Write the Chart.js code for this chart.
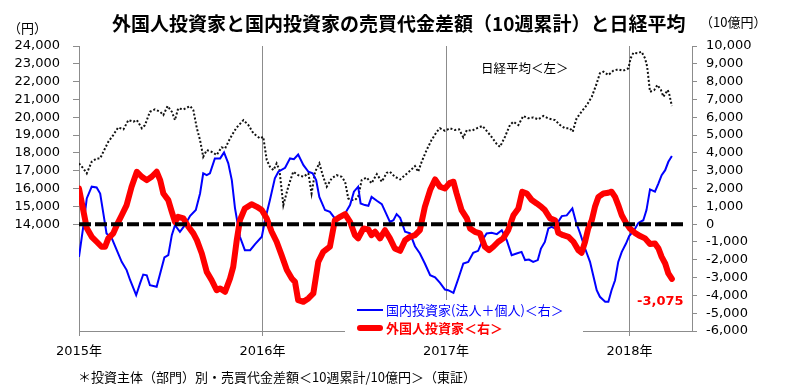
<!DOCTYPE html>
<html lang="ja">
<head>
<meta charset="utf-8">
<script src="https://cdn.jsdelivr.net/npm/chart.js@4.4.1/dist/chart.umd.min.js"></script>
<style>
  body { margin: 0; background: #fff; }
  #wrap { position: relative; width: 798px; height: 385px; overflow: hidden; }
  canvas { position: absolute; left: 0; top: 0; }
  .txt { position: absolute; white-space: nowrap; font-family: "Noto Sans CJK JP", sans-serif; color: #000; }
  #legend { position: absolute; left: 345px; top: 300px; width: 238px; height: 38px; background: #fff; }
  .swatch { position: absolute; left: 12px; width: 26px; }
</style>
</head>
<body>
<div id="wrap">
  <canvas id="chart" width="798" height="385"></canvas>
  <div class="txt" style="left:112px; top:13px; font-size:19px; line-height:19px; font-weight:bold;">外国人投資家と国内投資家の売買代金差額（10週累計）と日経平均</div>
  <div class="txt" style="left:8px; top:21px; font-size:13px; line-height:13px;">（円）</div>
  <div class="txt" style="left:700px; top:15px; font-size:13px; line-height:13px;">（10億円）</div>
  <div class="txt" style="left:481px; top:61px; font-size:12.5px; line-height:13px;">日経平均＜左＞</div>
  <div class="txt" style="left:637px; top:294px; font-size:13px; line-height:14px; font-weight:bold; color:#ff0000; font-family:'DejaVu Sans', sans-serif;">-3,075</div>
  <div id="legend">
    <div class="swatch" style="top:9px; height:2px; background:#0000ff;"></div>
    <div class="txt" style="left:41px; top:3px; font-size:13px; line-height:14px; color:#0000ff;">国内投資家(法人＋個人)＜右＞</div>
    <div class="swatch" style="top:25px; height:6px; border-radius:3px; background:#ff0000;"></div>
    <div class="txt" style="left:41px; top:21px; font-size:13px; line-height:14px; color:#ff0000; font-weight:bold;">外国人投資家＜右＞</div>
  </div>
  <div class="txt" style="left:78px; top:370px; font-size:13px; line-height:14px;">＊投資主体（部門）別・売買代金差額＜10週累計/10億円＞（東証）</div>
</div>
<script>
// === Data (x = weeks since start of 2015) ===
const yearWeeks = [0, 52, 104, 156];
const yearLabels = ["2015年", "2016年", "2017年", "2018年"];

const foreignWeeks = [0,1.2,2.2,3.6,5.0,6.4,7.4,8.3,9.7,10.7,12.1,13.5,14.9,16.4,17.8,19.2,20.6,22.0,23.0,23.9,25.3,26.3,27.2,28.1,29.6,31.0,32.4,33.4,34.8,36.2,37.6,39.0,40.0,41.4,42.8,43.7,44.7,45.6,47.0,48.9,50.4,51.8,53.2,54.6,56.0,57.4,58.9,60.3,61.2,62.1,63.6,65.0,66.4,67.8,69.2,71.1,72.5,74.0,75.4,76.8,78.2,79.1,80.6,82.0,82.9,83.9,85.3,86.7,88.1,89.5,91.0,92.4,93.8,95.2,96.6,98.0,99.5,100.9,102.3,103.7,105.1,106.1,107.0,108.4,109.9,110.8,112.2,113.6,115.0,116.2,117.4,118.8,120.2,121.6,123.1,124.5,125.6,126.9,128.3,129.7,131.1,132.0,133.5,134.9,135.8,137.2,138.7,140.1,141.5,142.4,143.4,144.3,145.3,146.2,147.2,148.6,150.0,150.9,151.9,152.8,153.8,155.0,156.1,157.5,159.0,160.4,161.8,163.2,164.2,165.1,166.1,167.0,168.0];
const foreignValues = [2000,790,-220,-710,-990,-1270,-1270,-800,-520,-60,500,1070,2100,2940,2660,2470,2660,2940,2470,1720,1350,690,130,410,320,-150,-520,-900,-1650,-2680,-3150,-3710,-3610,-3800,-3050,-2400,-900,220,880,1120,970,790,320,-430,-990,-1740,-2580,-3050,-3240,-4270,-4360,-4170,-3890,-2120,-1560,-1270,220,410,560,130,-620,-800,-240,-300,-620,-430,-800,-340,-800,-1370,-1500,-900,-710,-620,-340,970,1910,2510,2100,2000,2320,2380,1720,790,320,-240,-430,-520,-1270,-1460,-1270,-990,-800,-340,500,880,1820,1720,1350,1160,950,790,320,220,-490,-620,-710,-990,-1460,-1610,-990,-240,220,970,1530,1720,1760,1820,1530,1070,500,70,-240,-490,-670,-800,-1120,-1090,-1370,-1840,-2210,-2770,-3075];

const domesticWeeks = [0,1.2,2.2,3.6,5.0,6.0,6.9,7.8,9.3,10.7,12.1,13.5,14.5,16.2,17.3,18.2,19.2,20.1,22.0,23.0,24.2,25.3,26.3,27.2,28.6,30.0,31.5,33.1,34.3,35.2,36.2,37.1,38.5,40.0,41.1,42.3,43.3,44.2,45.6,47.0,48.5,49.9,51.8,52.7,54.1,55.5,56.5,58.4,59.8,60.9,62.1,63.6,65.0,66.2,67.2,68.1,69.7,71.1,72.5,74.0,75.4,76.8,77.9,79.1,79.8,81.0,82.0,82.9,84.4,85.8,87.0,88.1,89.1,90.0,91.0,92.4,93.8,95.2,96.6,98.0,99.5,100.9,102.3,103.7,104.6,106.1,107.5,108.9,110.3,111.7,113.1,114.6,115.5,116.9,118.4,119.8,121.2,122.6,124.0,125.4,126.4,127.5,128.7,130.0,130.9,132.0,133.0,133.9,134.9,135.8,136.8,138.2,139.8,140.8,142.0,143.4,144.8,145.7,146.7,147.6,149.1,150.0,150.9,151.9,152.8,153.8,155.0,155.9,157.3,158.5,159.9,160.8,161.8,163.2,164.2,165.1,166.1,167.0,168.0];
const domesticValues = [-1840,-150,1440,2100,2060,1720,600,-520,-800,-1460,-2120,-2580,-3150,-3990,-3330,-2830,-2870,-3430,-3520,-2770,-1870,-1740,-620,-60,-430,-60,470,790,1720,2850,2750,2850,3690,3690,4030,3410,2470,900,-710,-1460,-1460,-1120,-710,220,1350,2570,2940,3160,3690,3650,3910,3310,2940,2850,2470,1530,790,690,320,320,600,1070,1820,2100,1160,1070,1030,1530,1310,1120,600,130,220,560,350,-430,-520,-1240,-1650,-2210,-2870,-2990,-3300,-3670,-3710,-3860,-3050,-2210,-2120,-1610,-1500,-800,-520,-490,-560,-340,-900,-1740,-1650,-1560,-2020,-1990,-2120,-2020,-1370,-1000,-240,-150,-240,130,450,490,880,130,-520,-1370,-2120,-2870,-3710,-4080,-4360,-4360,-3710,-3150,-2120,-1560,-1090,-670,-340,70,220,790,1950,1820,2290,2750,3030,3500,3820];

const nikkeiWeeks = [0,1.2,2.2,3.6,5.0,6.0,6.9,8.3,9.7,11.1,12.6,14.0,15.4,16.4,17.8,18.7,20.1,21.5,23.0,23.9,25.1,26.3,27.2,28.1,29.6,31.5,32.4,33.4,34.3,35.2,36.2,37.6,39.0,40.4,41.4,42.8,44.2,44.7,46.6,48.0,49.4,51.3,52.2,53.2,54.1,55.1,56.0,56.8,57.9,59.3,60.7,62.1,63.6,65.0,65.9,66.9,68.1,69.2,70.2,71.6,73.0,74.4,75.4,76.3,77.3,78.2,79.1,80.1,81.5,82.9,84.4,85.8,87.2,88.1,89.5,91.0,92.4,93.8,95.2,96.1,97.1,98.5,99.9,101.4,102.3,103.7,105.1,106.5,107.7,108.9,109.9,111.3,112.7,114.3,115.5,116.9,118.4,119.3,120.7,122.1,123.1,124.5,125.9,127.3,128.7,130.1,131.6,132.9,134.9,136.3,137.7,139.1,139.9,141.0,142.4,143.9,145.3,146.7,147.6,148.6,150.0,151.4,152.8,154.2,155.7,156.3,157.1,158.2,159.4,160.4,161.0,161.8,163.0,163.9,164.9,165.6,166.8,167.2,168.0];
const nikkeiValues = [17410,17130,16850,17500,17690,17690,18060,18620,19000,19430,19320,19840,19750,19840,19380,19560,20310,20440,20310,20120,20630,20310,19840,20500,20440,20630,20400,19380,18720,17780,18160,18060,17880,18310,18250,18810,19280,19430,19840,19560,19100,18810,18900,17600,17220,17030,17410,17030,15070,16100,16940,16750,16660,16850,15720,16940,17410,16660,16100,16570,16750,16660,16380,15440,15350,15350,15530,16470,16620,16290,16810,16380,16880,16940,16660,16510,16750,16990,17260,16940,17500,18160,18720,19190,19380,19240,19380,19280,19320,18870,19280,19240,19380,19510,19240,18900,18490,18340,18900,19560,19750,19560,20070,19940,19990,19880,20070,19940,19840,19560,19380,19380,19190,19940,20310,20690,21150,21900,22470,22560,22370,22610,22690,22610,22750,23310,23620,23590,23680,23310,22840,21430,21530,21810,21530,21150,21530,21340,20630];

const zeroLineWeeks = [0, 171.7];
const zeroLineValues = [0, 0];

const leftTicks = [14000, 15000, 16000, 17000, 18000, 19000, 20000, 21000, 22000, 23000, 24000];

// === Helpers ===
const toPoints = (xs, ys) => xs.map((x, i) => ({ x, y: ys[i] }));
const numFmt = (v) => Number(v).toLocaleString("en-US");
const tickFont = { family: "'DejaVu Sans', 'Noto Sans CJK JP', sans-serif", size: 13 };
const axisGray = "#8c8c8c";

// === Chart ===
new Chart(document.getElementById("chart"), {
  type: "line",
  data: {
    datasets: [
      {
        data: toPoints(zeroLineWeeks, zeroLineValues),
        yAxisID: "yR",
        borderColor: "#000",
        borderWidth: 4,
        borderDash: [12, 4],
        pointRadius: 0,
      },
      {
        data: toPoints(foreignWeeks, foreignValues),
        yAxisID: "yR",
        borderColor: "#ff0000",
        borderWidth: 6,
        borderJoinStyle: "round",
        borderCapStyle: "round",
        pointRadius: 0,
        tension: 0,
      },
      {
        data: toPoints(domesticWeeks, domesticValues),
        yAxisID: "yR",
        borderColor: "#0000ff",
        borderWidth: 2,
        pointRadius: 0,
        tension: 0,
      },
      {
        data: toPoints(nikkeiWeeks, nikkeiValues),
        yAxisID: "yL",
        borderColor: "#111",
        borderWidth: 2,
        borderDash: [2, 2],
        pointRadius: 0,
        tension: 0,
      },
    ],
  },
  options: {
    responsive: false,
    animation: false,
    devicePixelRatio: 1,
    layout: { padding: { top: 46, left: 0, right: 0, bottom: 0 } },
    plugins: { legend: { display: false }, tooltip: { enabled: false } },
    scales: {
      x: {
        type: "linear",
        position: "bottom",
        min: 0,
        max: 173.7,
        afterBuildTicks: (s) => { s.ticks = yearWeeks.map(v => ({ value: v })); },
        afterFit: (s) => { s.height = 54; },
        ticks: {
          autoSkip: false,
          maxRotation: 0,
          padding: 8,
          color: "#000",
          font: tickFont,
          callback: (v, i) => yearLabels[i],
        },
        grid: { color: axisGray, lineWidth: 1, tickLength: 5, drawOnChartArea: true },
        border: { display: true, color: axisGray },
      },
      yL: {
        position: "left",
        min: 8000,
        max: 24000,
        afterBuildTicks: (s) => { s.ticks = leftTicks.map(v => ({ value: v })); },
        afterFit: (s) => { s.width = 79; },
        ticks: { autoSkip: false, padding: 13, color: "#000", font: tickFont, callback: numFmt },
        grid: { drawOnChartArea: false, color: axisGray, tickLength: 6 },
        border: { display: true, color: axisGray },
      },
      yR: {
        position: "right",
        min: -6000,
        max: 10000,
        afterFit: (s) => { s.width = 106; },
        ticks: { autoSkip: false, stepSize: 1000, padding: 9, color: "#000", font: tickFont, callback: numFmt },
        grid: { drawOnChartArea: false, color: axisGray, tickLength: 5 },
        border: { display: true, color: axisGray },
      },
    },
  },
});
</script>
</body>
</html>
